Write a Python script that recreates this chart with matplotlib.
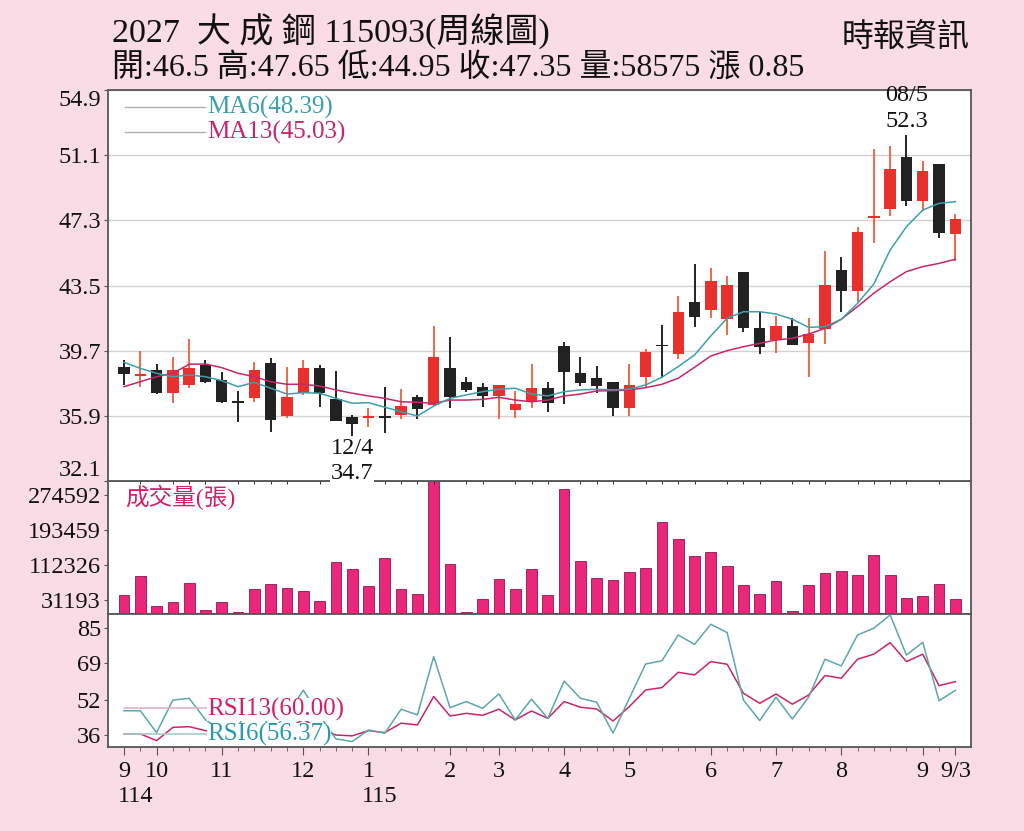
import matplotlib
matplotlib.use('Agg')
import matplotlib.pyplot as plt
import matplotlib.transforms as mtrans
import numpy as np

FONTS = ['Liberation Serif', 'Noto Sans CJK TC', 'DejaVu Sans']
plt.rcParams['font.family'] = FONTS

# ---------------- data ----------------
opens = [38.77, 38.25, 38.57, 37.22, 37.70, 38.86, 37.99, 36.70, 36.92, 38.96,
         35.89, 37.22, 38.67, 36.88, 35.85, 35.80, 35.85, 35.93, 37.02, 36.53,
         38.71, 37.86, 37.60, 37.06, 36.24, 36.78, 37.51, 39.99, 38.38, 38.09,
         37.86, 36.34, 38.18, 40.00, 39.51, 42.52, 42.07, 41.53, 44.27, 41.00,
         40.32, 41.14, 40.13, 40.96, 44.40, 43.20, 47.45, 47.94, 50.98, 48.43,
         50.57, 46.50]
highs = [39.16, 39.70, 38.91, 39.35, 40.36, 39.16, 38.47, 37.35, 39.06, 39.29,
         38.77, 39.16, 38.86, 38.53, 35.95, 36.34, 37.60, 37.45, 37.12, 41.14,
         40.48, 38.18, 37.80, 37.70, 37.35, 38.91, 37.86, 40.19, 39.31, 38.81,
         37.86, 38.92, 39.78, 41.20, 42.91, 44.75, 44.50, 44.05, 44.27, 41.94,
         41.74, 41.59, 41.59, 45.53, 45.14, 46.93, 51.46, 51.65, 52.30, 50.78,
         50.57, 47.65]
lows = [37.70, 37.60, 37.20, 36.63, 37.50, 37.80, 36.63, 35.56, 36.72, 34.98,
        35.76, 37.12, 36.43, 35.58, 34.70, 35.23, 34.92, 35.70, 35.70, 36.50,
        36.34, 37.31, 36.43, 35.70, 35.76, 36.34, 36.11, 36.57, 37.64, 37.22,
        35.91, 35.91, 37.51, 38.09, 39.20, 41.06, 41.59, 40.61, 40.81, 39.51,
        39.58, 40.03, 38.18, 40.09, 41.97, 42.56, 45.96, 47.55, 48.14, 47.84,
        46.29, 44.95]
closes = [38.32, 38.30, 37.22, 38.57, 38.71, 37.89, 36.72, 36.65, 38.57, 35.66,
          37.02, 38.67, 37.22, 35.60, 35.41, 35.85, 35.80, 36.47, 36.30, 39.31,
          37.02, 37.41, 37.06, 37.70, 36.57, 37.51, 36.63, 38.44, 37.80, 37.64,
          36.34, 37.70, 39.60, 39.95, 41.97, 41.65, 43.78, 43.53, 41.04, 39.93,
          41.16, 40.03, 40.65, 43.53, 43.20, 46.60, 47.55, 50.28, 48.43, 50.18,
          46.54, 47.35]
ma6 = [39.02, 38.67, 38.38, 38.18, 38.28, 38.18, 37.95, 37.60, 37.85, 37.51,
       37.17, 37.25, 37.22, 36.92, 36.63, 36.67, 36.40, 36.14, 35.89, 36.47,
       36.92, 37.12, 37.31, 37.45, 37.51, 37.17, 37.06, 37.31, 37.41, 37.45,
       37.41, 37.45, 37.70, 38.15, 38.77, 39.45, 40.56, 41.59, 41.97, 41.97,
       41.84, 41.53, 41.06, 41.10, 41.53, 42.46, 43.59, 45.57, 46.93, 47.90,
       48.29, 48.39]
ma13 = [37.60, 37.89, 38.18, 38.38, 38.91, 38.92, 38.71, 38.38, 38.18, 37.89,
        37.74, 37.74, 37.64, 37.41, 37.22, 37.06, 36.92, 36.72, 36.69, 36.63,
        36.82, 36.82, 36.86, 36.98, 36.82, 36.72, 36.82, 37.06, 37.17, 37.35,
        37.37, 37.41, 37.54, 37.74, 38.09, 38.73, 39.39, 39.70, 39.93, 40.13,
        40.32, 40.42, 40.67, 41.00, 41.53, 42.27, 43.05, 43.72, 44.31, 44.60,
        44.79, 45.03]
volumes = [44500, 86900, 18100, 27400, 71400, 8800, 26700, 4200, 58400, 70000,
           59800, 52200, 30600, 119400, 104800, 65400, 128600, 56800, 45900, 330000,
           115400, 4200, 35200, 80700, 57500, 103800, 42900, 287900, 122400, 82300,
           79300, 96900, 106200, 211400, 173400, 133300, 144200, 111700, 66100, 46800,
           76000, 6500, 67700, 95500, 98500, 90900, 135600, 89200, 37600, 41300,
           70000, 33600]
rsi6 = [47.1, 47.1, 37.1, 52.0, 52.8, 43.0, 38.0, 40.0, 53.0, 38.0,
        45.0, 56.5, 45.0, 34.2, 33.0, 38.3, 36.8, 47.8, 45.2, 71.9,
        48.5, 51.3, 48.2, 54.8, 42.9, 52.4, 43.6, 60.7, 52.8, 51.0,
        36.8, 52.8, 68.5, 70.0, 81.8, 77.5, 86.7, 82.9, 52.0, 42.6,
        53.3, 43.3, 53.3, 70.7, 67.6, 81.8, 84.9, 91.0, 72.6, 78.4,
        51.7, 56.4]
rsi13 = [36.5, 36.5, 33.4, 39.5, 39.8, 38.0, 36.5, 37.0, 41.0, 37.0,
         39.0, 43.0, 39.0, 36.0, 35.6, 38.0, 37.1, 41.4, 40.6, 53.6,
         44.7, 45.9, 45.0, 47.8, 42.9, 47.0, 43.6, 51.3, 48.7, 47.9,
         42.4, 49.0, 56.6, 57.7, 64.7, 63.5, 69.6, 68.4, 55.1, 50.5,
         54.8, 50.1, 54.3, 63.2, 62.0, 70.7, 73.0, 78.3, 69.6, 73.0,
         58.6, 60.4]

price_ticks = [32.1, 35.9, 39.7, 43.5, 47.3, 51.1, 54.9]
vol_ticks = [31193, 112326, 193459, 274592]
rsi_ticks = [36, 52, 69, 85]
month_pos = [0, 2, 6, 11, 15, 20, 23, 27, 31, 36, 40, 44, 49, 51]
month_labels = ['9', '10', '11', '12', '1', '2', '3', '4', '5', '6', '7', '8', '9', '9/3']
year_pos = [0, 15]
year_labels = ['114', '115']

title = '2027  大 成 鋼 115093(周線圖)'
subtitle = '開:46.5 高:47.65 低:44.95 收:47.35 量:58575 漲 0.85'
source = '時報資訊'

# ---------------- style ----------------
BG = '#f9dce6'
RED = '#e8302c'
RED_WICK = '#ec6a48'
BLACK = '#222222'
TEAL = '#3c9faa'
MAG = '#c8266a'
VOLC = '#e9287c'
SPINE = '#555555'

fig = plt.figure(figsize=(10.24, 8.31), dpi=100)
fig.patch.set_facecolor(BG)

L = 108 / 1024
W = 863 / 1024
def fy(y):
    return 1 - y / 831

ax1 = fig.add_axes([L, fy(481), W, (481 - 90) / 831])
ax2 = fig.add_axes([L, fy(614), W, (614 - 481) / 831], sharex=ax1)
ax3 = fig.add_axes([L, fy(747), W, (747 - 614) / 831], sharex=ax1)
ax1.set_zorder(3)

n = len(closes)
x = np.arange(n)
o = np.array(opens); c = np.array(closes); h = np.array(highs); lo = np.array(lows)
up = c >= o

for ax in (ax1, ax2, ax3):
    ax.set_facecolor('white')
    for s in ax.spines.values():
        s.set_color(SPINE)
        s.set_linewidth(1.3)
    ax.tick_params(axis='y', direction='out', length=3, color=SPINE,
                   labelsize=17.5, pad=2, labelcolor='#111111')

# ---- price panel ----
ax1.set_ylim(32.1, 54.9)
ax1.set_xlim(-0.98, 51.96)
ax1.set_yticks(price_ticks)
ax1.set_yticklabels([f'{v:.1f}' for v in price_ticks])
labs = ax1.get_yticklabels()
labs[0].set_va('bottom')
labs[-1].set_va('top')
ax1.yaxis.grid(True, color='#d2d2d2', lw=1.0)
ax1.set_axisbelow(True)
ax1.tick_params(axis='x', length=0, labelbottom=False)

wick_cols = [RED_WICK if u else BLACK for u in up]
body_cols = [RED if u else BLACK for u in up]
ax1.vlines(x, lo, h, colors=wick_cols, lw=1.4, zorder=2)
bottoms = np.minimum(o, c)
heights = np.maximum(np.abs(c - o), 0.1)
ax1.bar(x, heights, bottom=bottoms, width=0.7, color=body_cols, zorder=3, linewidth=0)

ax1.plot(x, ma13, color=MAG, lw=1.1, zorder=4)
ax1.plot(x, ma6, color=TEAL, lw=1.1, zorder=4)

# MA legend
ax1.plot([0.02, 0.112], [0.9565, 0.9565], transform=ax1.transAxes, color='#b0b0b0', lw=1)
ax1.plot([0.02, 0.112], [0.8926, 0.8926], transform=ax1.transAxes, color='#b0b0b0', lw=1)
ax1.text(0.1147, 0.9565, 'MA6(48.39)', transform=ax1.transAxes, color=TEAL,
         fontsize=18, va='center', ha='left')
ax1.text(0.1147, 0.8926, 'MA13(45.03)', transform=ax1.transAxes, color=MAG,
         fontsize=18, va='center', ha='left')

# high / low annotations
ihi = int(np.argmax(h)); ilo = int(np.argmin(lo))
ax1.annotate('52.3', xy=(ihi, h[ihi]), xytext=(0, 13), textcoords='offset pixels',
             ha='center', va='center', fontsize=17.5, color='#111111', annotation_clip=False)
ax1.annotate('08/5', xy=(ihi, h[ihi]), xytext=(0, 39), textcoords='offset pixels',
             ha='center', va='center', fontsize=17.5, color='#111111', annotation_clip=False)
ax1.annotate('12/4', xy=(ilo, lo[ilo]), xytext=(0, -12), textcoords='offset pixels',
             ha='center', va='center', fontsize=17.5, color='#111111', annotation_clip=False)
ax1.annotate('34.7', xy=(ilo, lo[ilo]), xytext=(0, -37), textcoords='offset pixels',
             ha='center', va='center', fontsize=17.5, color='#111111', annotation_clip=False,
             bbox=dict(facecolor='white', edgecolor='none', pad=0.5), zorder=10)

# ---- volume panel ----
ax2.set_ylim(0, 307000)
ax2.bar(x, volumes, width=0.66, color=VOLC, edgecolor='#8a1848', linewidth=0.6)
ax2.set_yticks(vol_ticks)
ax2.set_yticklabels([str(v) for v in vol_ticks])
ax2.tick_params(axis='x', length=0, labelbottom=False)
ax2.text(0.0197, 0.88, '成交量(張)', transform=ax2.transAxes, color='#d0206a',
         fontsize=17, va='center', ha='left')

# ---- RSI panel ----
ax3.set_ylim(30.5, 91.4)
ax3.plot(x, rsi13, color=MAG, lw=1.1, zorder=3)
ax3.plot(x, rsi6, color='#5fa6aa', lw=1.1, zorder=3)
ax3.set_yticks(rsi_ticks)
ax3.set_yticklabels([str(v) for v in rsi_ticks])
ax3.plot([0.0185, 0.1147], [0.293, 0.293], transform=ax3.transAxes, color='#dcb4c4', lw=1.2, zorder=4)
ax3.plot([0.0185, 0.1147], [0.098, 0.098], transform=ax3.transAxes, color='#a9caca', lw=1.2, zorder=4)
ax3.text(0.1147, 0.285, 'RSI13(60.00)', transform=ax3.transAxes, color='#d0206a',
         fontsize=18, va='center', ha='left', zorder=5,
         bbox=dict(facecolor='white', edgecolor='none', pad=0))
ax3.text(0.1147, 0.094, 'RSI6(56.37)', transform=ax3.transAxes, color='#2a9aab',
         fontsize=18, va='center', ha='left', zorder=5,
         bbox=dict(facecolor='white', edgecolor='none', pad=0))

ax3.set_xticks(month_pos)
ax3.set_xticklabels(month_labels)
ax3.set_xticks(x, minor=True)
ax3.tick_params(axis='x', which='major', direction='out', length=6, color=SPINE,
                labelsize=17.5, pad=4, labelcolor='#111111')
ax3.tick_params(axis='x', which='minor', direction='out', length=3, color=SPINE)
tr = mtrans.blended_transform_factory(ax3.transData, ax3.transAxes)
for p, lab in zip(year_pos, year_labels):
    ax3.text(p - 0.38, -0.37, lab, transform=tr, ha='left', va='center',
             fontsize=17.5, color='#111111')

# ---- header ----
fig.text(112 / 1024, fy(31), title, fontsize=24.5, ha='left', va='center', color='#111111')
fig.text(112 / 1024, fy(69), subtitle, fontsize=23, ha='left', va='center', color='#111111')
fig.text(970 / 1024, fy(38), source, fontsize=23, ha='right', va='center', color='#111111')

fig.savefig('out.png', dpi=100, facecolor=BG)
